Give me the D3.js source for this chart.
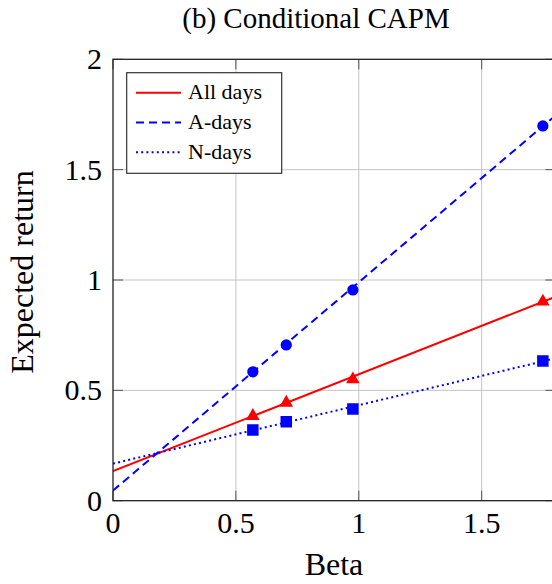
<!DOCTYPE html>
<html>
<head>
    <title>Conditional CAPM</title>
    <script src="https://cdn.jsdelivr.net/npm/d3@7"></script>
    <style>
        body {
            margin: 0;
            overflow: hidden;
            background: #fff;
        }
        #mainsvg text {
            font-family: "Liberation Serif", "Times New Roman", serif;
        }
    </style>
</head>
<body>
    <svg width="560" height="584" id="mainsvg" style="display: block;"></svg>
    <script>
        // values
        const betas = [0.569, 0.705, 0.976, 1.749];
        const allDays = [0.384, 0.444, 0.550, 0.902];
        const aDays = [0.584, 0.706, 0.955, 1.698];
        const nDays = [0.320, 0.358, 0.415, 0.633];
        // fitted security market lines, value at beta = 0 and beta = 1.8
        const lineBetas = [0, 1.8];
        const allLine = [0.134, 0.924];
        const aLine = [0.046, 1.745];
        const nLine = [0.168, 0.645];

        const xTicks = [0, 0.5, 1, 1.5];
        const yTicks = [0, 0.5, 1, 1.5, 2];

        const series = [
            { name: 'All days', values: allDays, line: allLine, color: '#ff0000', dash: null, symbol: d3.symbolTriangle, size: 80 },
            { name: 'A-days', values: aDays, line: aLine, color: '#0000ff', dash: '8,5', symbol: d3.symbolCircle, size: 100 },
            { name: 'N-days', values: nDays, line: nLine, color: '#0000ff', dash: '2,3.2', symbol: d3.symbolSquare, size: 132 }
        ];

        const svg = d3.select('#mainsvg');
        const plotLeft = 113, plotRight = 555.4, plotTop = 59.3, plotBottom = 500.7;

        const xScale = d3.scaleLinear().domain([0, 1.8]).range([plotLeft, plotRight]);
        const yScale = d3.scaleLinear().domain([0, 2]).range([plotBottom, plotTop]);

        svg.append('clipPath').attr('id', 'plotclip')
            .append('rect')
            .attr('x', plotLeft).attr('y', plotTop)
            .attr('width', plotRight - plotLeft).attr('height', plotBottom - plotTop);

        // grid
        const grid = svg.append('g').attr('stroke', '#c4c4c4').attr('stroke-width', 1);
        grid.selectAll('.gx').data(xTicks.filter(d => d > 0)).enter().append('line')
            .attr('x1', d => xScale(d)).attr('x2', d => xScale(d))
            .attr('y1', plotTop).attr('y2', plotBottom);
        grid.selectAll('.gy').data(yTicks.filter(d => d > 0 && d < 2)).enter().append('line')
            .attr('x1', plotLeft).attr('x2', plotRight)
            .attr('y1', d => yScale(d)).attr('y2', d => yScale(d));

        // inward ticks on all four sides
        const ticks = svg.append('g').attr('stroke', '#555').attr('stroke-width', 1);
        xTicks.forEach(t => {
            ticks.append('line').attr('x1', xScale(t)).attr('x2', xScale(t)).attr('y1', plotBottom).attr('y2', plotBottom - 10);
            ticks.append('line').attr('x1', xScale(t)).attr('x2', xScale(t)).attr('y1', plotTop).attr('y2', plotTop + 10);
        });
        yTicks.forEach(t => {
            ticks.append('line').attr('x1', plotLeft).attr('x2', plotLeft + 10).attr('y1', yScale(t)).attr('y2', yScale(t));
            ticks.append('line').attr('x1', plotRight).attr('x2', plotRight - 10).attr('y1', yScale(t)).attr('y2', yScale(t));
        });

        // lines and markers
        const plot = svg.append('g').attr('clip-path', 'url(#plotclip)');
        const lineGen = d3.line().x(d => xScale(d[0])).y(d => yScale(d[1]));
        series.forEach(s => {
            plot.append('path')
                .datum(lineBetas.map((b, i) => [b, s.line[i]]))
                .attr('d', lineGen)
                .attr('fill', 'none')
                .attr('stroke', s.color)
                .attr('stroke-width', 2)
                .attr('stroke-dasharray', s.dash);
            plot.selectAll(null)
                .data(betas.map((b, i) => [b, s.values[i]]))
                .enter()
                .append('path')
                .attr('transform', d => `translate(${xScale(d[0])}, ${yScale(d[1])})`)
                .attr('d', d3.symbol().type(s.symbol).size(s.size))
                .attr('fill', s.color);
        });

        // frame
        svg.append('rect')
            .attr('x', plotLeft).attr('y', plotTop)
            .attr('width', plotRight - plotLeft).attr('height', plotBottom - plotTop)
            .attr('fill', 'none').attr('stroke', '#222').attr('stroke-width', 1.3);

        // tick labels
        svg.selectAll('.xlab').data(xTicks).enter().append('text')
            .attr('x', d => xScale(d)).attr('y', 533)
            .attr('text-anchor', 'middle')
            .attr('font-size', 30)
            .text(d => d);
        svg.selectAll('.ylab').data(yTicks).enter().append('text')
            .attr('x', 102).attr('y', d => yScale(d) + 10)
            .attr('text-anchor', 'end')
            .attr('font-size', 30)
            .text(d => d);

        // axis labels and title
        svg.append('text')
            .attr('x', 334).attr('y', 575)
            .attr('text-anchor', 'middle')
            .attr('font-size', 32)
            .text('Beta');
        svg.append('text')
            .attr('transform', 'translate(33, 272) rotate(-90)')
            .attr('text-anchor', 'middle')
            .attr('font-size', 32)
            .text('Expected return');
        svg.append('text')
            .attr('x', 316).attr('y', 28)
            .attr('text-anchor', 'middle')
            .attr('font-size', 29)
            .text('(b) Conditional CAPM');

        // legend
        const legend = svg.append('g');
        legend.append('rect')
            .attr('x', 126.7).attr('y', 72.7)
            .attr('width', 155).attr('height', 100.6)
            .attr('fill', '#fff').attr('stroke', '#333').attr('stroke-width', 1.2);
        series.forEach((s, i) => {
            const ly = 92.7 + i * 29.8;
            legend.append('line')
                .attr('x1', 136).attr('x2', 181)
                .attr('y1', ly).attr('y2', ly)
                .attr('stroke', s.color).attr('stroke-width', 2)
                .attr('stroke-dasharray', s.dash);
            legend.append('text')
                .attr('x', 188).attr('y', ly + 6.5)
                .attr('font-size', 22)
                .text(s.name);
        });
    </script>
</body>
</html>
